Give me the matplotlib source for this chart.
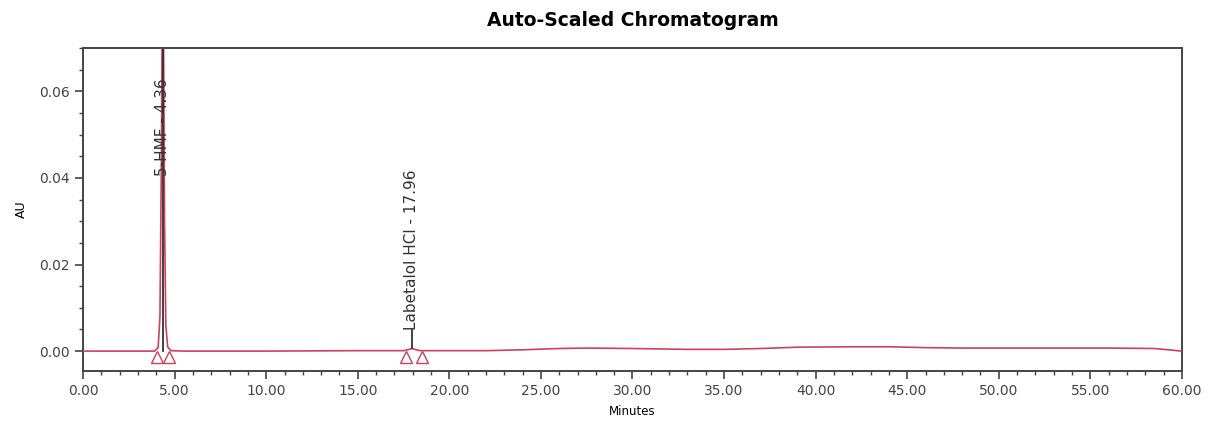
import matplotlib.pyplot as plt
from matplotlib.ticker import MultipleLocator

# chromatogram trace (minutes, AU)
time = [0.0, 3.9, 4.1, 4.2, 4.28, 4.33, 4.36, 4.40, 4.45, 4.52, 4.62, 4.8, 5.5,
        10.0, 15.0, 17.5, 17.8, 17.96, 18.1, 18.4, 20.0, 22.0, 24.0, 26.0, 27.5,
        30.0, 33.0, 35.0, 37.0, 39.0, 42.0, 44.0, 46.0, 48.0, 52.0, 56.0, 58.5, 60.0]
au = [0.0, 0.0, 0.0008, 0.008, 0.045, 0.085, 0.095, 0.07, 0.03, 0.006, 0.001, 0.0001, 0.0,
      0.0, 0.0001, 0.0001, 0.0004, 0.0006, 0.0004, 0.0001, 0.0001, 0.0001, 0.0003, 0.0006, 0.0007,
      0.0006, 0.0004, 0.0004, 0.0006, 0.0009, 0.001, 0.001, 0.0008, 0.0007, 0.0007, 0.0007, 0.0006, 0.0]

# peak labels
peak_names = ['5-HMF - 4.36', 'Labetalol HCl - 17.96']
peak_rt = [4.36, 17.96]
peak_text_y = [0.0405, 0.0048]
peak_line_from = [0.0, 0.0008]
# integration start/end markers
marker_t = [4.05, 4.7, 17.65, 18.5]

red = '#d0405a'
grey = '#444444'

fig = plt.figure(figsize=(12.14, 4.23), dpi=100)
ax = fig.add_axes([0.0684, 0.1229, 0.9052, 0.7636])

ax.plot(time, au, color=red, lw=1.2, zorder=3)

for name, rt, ty, y0 in zip(peak_names, peak_rt, peak_text_y, peak_line_from):
    top = 0.07 if rt < 10 else ty
    ax.plot([rt, rt], [y0, top], color='#333333', lw=1.3, zorder=4)
    ax.text(rt, ty, name, rotation=90, ha='center', va='bottom', fontsize=11,
            color='#333333', zorder=5)

ax.plot(marker_t, [-0.0013] * len(marker_t), linestyle='none', marker='^',
        markersize=8, markerfacecolor='none', markeredgecolor=red, markeredgewidth=1, zorder=3)

ax.set_xlim(0, 60)
ax.set_ylim(-0.0046, 0.07)
ax.xaxis.set_major_locator(MultipleLocator(5))
ax.xaxis.set_minor_locator(MultipleLocator(1))
ax.yaxis.set_major_locator(MultipleLocator(0.02))
ax.yaxis.set_minor_locator(MultipleLocator(0.005))
ax.xaxis.set_major_formatter(lambda v, p: f'{v:.2f}')
ax.yaxis.set_major_formatter(lambda v, p: f'{v:.2f}')
ax.tick_params(which='major', length=6, width=1.2, labelsize=10, colors=grey)
ax.tick_params(which='minor', length=3, width=1.0, colors=grey)
for s in ax.spines.values():
    s.set_color(grey)
    s.set_linewidth(1.4)

ax.set_title('Auto-Scaled Chromatogram', fontsize=13.5, fontweight='bold', pad=16)
ax.set_xlabel('Minutes', fontsize=8.5, labelpad=5)
ax.set_ylabel('AU', fontsize=9, labelpad=8)

plt.savefig('out.png', dpi=100)
